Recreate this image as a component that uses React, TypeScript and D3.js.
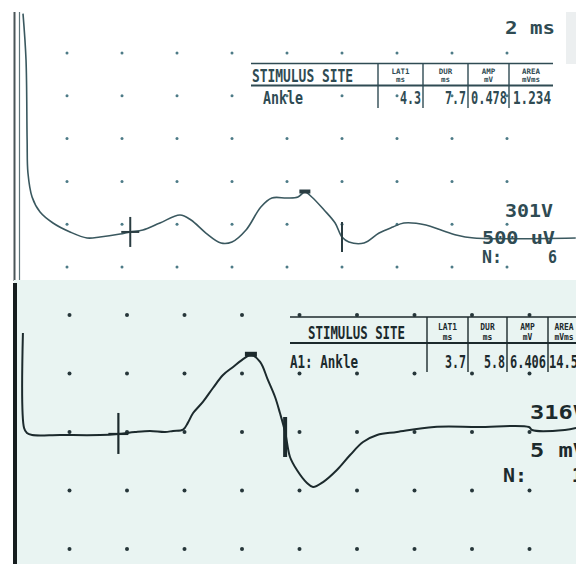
import React from 'react';
import * as d3 from 'd3';

const WIDTH = 576;
const HEIGHT = 564;

// grid (one dot per division)
const gridTimes = [2, 4, 6, 8, 10, 12, 14, 16, 18];
const topGridAmps = [0, 500, 1000, 1500, 2000, 2500];
const bottomGridAmps = [-10, -5, 0, 5, 10];

// upper trace: time in ms, amplitude in uV
const topTime = [0.4, 0.51, 0.55, 0.58, 0.73, 1.02, 1.49, 2.11, 2.73, 3.2, 3.93, 4.29, 4.76, 5.38, 6.11, 6.51,
    7.05, 7.6, 8.0, 8.51, 9.05, 9.45, 10.0, 10.4, 10.65, 10.9, 11.35, 11.75, 12.0, 12.25, 12.8, 13.35,
    13.85, 14.25, 15.05, 15.6, 16.15, 16.8, 20.5];
const topAmp = [2960, 2418, 1483, 1098, 818, 642, 514, 409, 339, 350, 385, 409, 432, 514, 607, 549,
    397, 280, 292, 432, 701, 806, 806, 818, 876, 818, 666, 514, 350, 292, 280, 397,
    467, 514, 491, 432, 374, 339, 339];

// lower trace: time in ms, amplitude in mV
const bottomTime = [0.38, 0.42, 0.52, 0.7, 1.67, 3.06, 3.69, 4.28, 4.8, 5.32, 5.6, 5.95, 6.12, 6.3, 6.64, 6.99,
    7.34, 7.69, 8.1, 8.31, 8.63, 8.9, 9.15, 9.32, 9.5, 9.67, 9.91, 10.26, 10.47, 10.82, 11.3, 11.76,
    12.21, 12.7, 13.39, 14.68, 16.21, 17.98, 18.09, 19.23, 19.62];
const bottomAmp = [8.46, 0.34, -0.09, -0.26, -0.26, -0.26, -0.17, 0, 0.09, 0, 0.09, 0.2, 0.8, 1.62, 2.57, 3.76,
    4.87, 5.56, 6.33, 6.6, 5.99, 4.45, 2.99, 1.62, 0, -2.14, -3.25, -4.36, -4.7, -4.28, -3.25, -1.97,
    -0.86, -0.26, 0, 0.43, 0.43, 0.43, 0.17, 0.17, 0.34];

// tables
const columnTop = ['LAT1', 'DUR', 'AMP', 'AREA'];
const columnUnit = ['ms', 'ms', 'mV', 'mVms'];
const topRow = ['Ankle', '4.3', '7.7', '0.478', '1.234'];
const bottomRow = ['A1: Ankle', '3.7', '5.8', '6.406', '14.5'];
const topPeakTime = 10.65;
const bottomPeakTime = 8.31;

// side labels
const topSweep = '2 ms';
const topLabels = ['301V', '500 uV', 'N:', '6'];
const bottomLabels = ['316V', '5 mV', 'N:', '1'];

const FONT = '"DejaVu Sans Mono", monospace';
const TOP_INK = '#2f4b53';
const BOTTOM_INK = '#1c2a2d';

const topX = d3.scaleLinear().domain([0, 20]).range([12, 562]);
const topY = d3.scaleLinear().domain([0, 2500]).range([267, 53]);
const bottomX = d3.scaleLinear().domain([0, 20]).range([12, 587]);
const bottomY = d3.scaleLinear().domain([-10, 10]).range([549, 315]);

const ampAt = (times: number[], amps: number[], t: number) => {
    const i = Math.max(1, d3.bisectLeft(times, t));
    const t0 = times[i - 1], t1 = times[i];
    const k = t1 === t0 ? 0 : (t - t0) / (t1 - t0);
    return amps[i - 1] + k * (amps[i] - amps[i - 1]);
};

const Label = ({x, y, w, size, fill, anchorEnd = false, children}: any) => (
    <text x={anchorEnd ? x - w : x} y={y} textLength={w} lengthAdjust="spacingAndGlyphs"
          fontFamily={FONT} fontWeight="bold" fontSize={size} fill={fill}>{children}</text>
);

interface ITable {
    left: number; top: number; headLine: number; bottom: number; right: number;
    cols: number[]; row: string[]; ink: string;
    siteX: number; siteW: number; rowX: number; rowW: number;
    valueW: number[]; headSize: number; headY: number[];
}

const Table = ({left, top, headLine, bottom, right, cols, row, ink, siteX, siteW, rowX, rowW, valueW,
                   headSize, headY}: ITable) => {
    const rights = [...cols.slice(1), right];
    return (
        <g>
            <line x1={left} x2={right} y1={top} y2={top} stroke={ink} strokeWidth={1.6}/>
            <line x1={left} x2={right} y1={headLine} y2={headLine} stroke={ink} strokeWidth={2}/>
            {cols.map(c => <line key={c} x1={c} x2={c} y1={top} y2={bottom} stroke={ink} strokeWidth={1.4}/>)}
            <Label x={siteX} y={headLine - 4} w={siteW} size={18} fill={ink}>STIMULUS SITE</Label>
            {columnTop.map((h, i) => {
                const mid = (cols[i] + rights[i]) / 2;
                const w1 = h.length * headSize * 0.6;
                const w2 = columnUnit[i].length * headSize * 0.6;
                return (
                    <g key={h}>
                        <Label x={mid - w1 / 2} y={headY[0]} w={w1} size={headSize} fill={ink}>{h}</Label>
                        <Label x={mid - w2 / 2} y={headY[1]} w={w2} size={headSize} fill={ink}>{columnUnit[i]}</Label>
                    </g>
                );
            })}
            <Label x={rowX} y={bottom - 4} w={rowW} size={18} fill={ink}>{row[0]}</Label>
            {row.slice(1).map((v, i) => (
                <Label key={i} x={rights[i] - 2} y={bottom - 4} w={valueW[i]} size={17} fill={ink}
                       anchorEnd>{v}</Label>
            ))}
        </g>
    );
};

const App = () => {
    const topLine = d3.line<number>()
        .x(t => topX(t))
        .y((_, i) => topY(topAmp[i]))
        .curve(d3.curveCatmullRom.alpha(0.5));
    const bottomLine = d3.line<number>()
        .x(t => bottomX(t))
        .y((_, i) => bottomY(bottomAmp[i]))
        .curve(d3.curveCatmullRom.alpha(0.5));

    const topLat = +topRow[1];
    const topEnd = topLat + +topRow[2];
    const botLat = +bottomRow[1];
    const botEnd = botLat + +bottomRow[2];

    const tLatY = topY(ampAt(topTime, topAmp, topLat));
    const tEndY = topY(ampAt(topTime, topAmp, topEnd));
    const tPeakY = topY(ampAt(topTime, topAmp, topPeakTime));
    const bLatY = bottomY(ampAt(bottomTime, bottomAmp, botLat));
    const bPeakY = bottomY(ampAt(bottomTime, bottomAmp, bottomPeakTime));

    return (
        <svg width={WIDTH} height={HEIGHT} style={{position: 'absolute', left: 0, top: 0}}>
            <defs>
                <linearGradient id="topRule" x1="0" x2="1" y1="0" y2="0">
                    <stop offset="0" stopColor="#3a4f55"/>
                    <stop offset="0.75" stopColor="#3a4f55" stopOpacity={0.8}/>
                    <stop offset="1" stopColor="#3a4f55" stopOpacity={0}/>
                </linearGradient>
            </defs>
            <rect width={WIDTH} height={HEIGHT} fill="#ffffff"/>
            <rect x={566} y={12} width={10} height={52} fill="#eceff0"/>

            {/* upper panel */}
            <line x1={14} x2={335} y1={13} y2={13} stroke="url(#topRule)" strokeWidth={2}/>
            <line x1={14.5} x2={14.5} y1={12} y2={281} stroke="#4a5558" strokeWidth={2}/>
            <line x1={19.5} x2={19.5} y1={12} y2={281} stroke="#5d7479" strokeWidth={1.2}/>
            {topGridAmps.map(a => gridTimes.map(t => (
                <circle key={`t${a}_${t}`} cx={topX(t)} cy={topY(a)} r={1.5} fill="#4d7b87"/>
            )))}
            <Label x={505} y={34} w={50} size={18} fill={TOP_INK}>{topSweep}</Label>
            <Table left={251} top={63.5} headLine={85.5} bottom={108} right={553} cols={[378, 423, 468, 509]}
                   row={topRow} ink={TOP_INK} siteX={252} siteW={101} rowX={263} rowW={40}
                   valueW={[21, 21, 36, 38]} headSize={7.5} headY={[74, 82]}/>
            <path d={topLine(topTime) || ''} fill="none" stroke="#3a585f" strokeWidth={1.6}
                  strokeLinejoin="round"/>
            <line x1={topX(topLat)} x2={topX(topLat)} y1={tLatY - 15} y2={tLatY + 15} stroke="#2a3d42"
                  strokeWidth={2}/>
            <line x1={topX(topLat) - 9} x2={topX(topLat) + 9} y1={tLatY} y2={tLatY} stroke="#2a3d42"
                  strokeWidth={2}/>
            <line x1={topX(topEnd)} x2={topX(topEnd)} y1={tEndY - 15} y2={tEndY + 15} stroke="#2a3d42"
                  strokeWidth={2}/>
            <rect x={topX(topPeakTime) - 5.5} y={tPeakY - 2.5} width={11} height={4} fill="#2a3d42"/>
            <Label x={505} y={217} w={48} size={18} fill={TOP_INK}>{topLabels[0]}</Label>
            <Label x={482} y={244} w={73} size={18} fill={TOP_INK}>{topLabels[1]}</Label>
            <Label x={482} y={263} w={20} size={18} fill={TOP_INK}>{topLabels[2]}</Label>
            <Label x={548} y={263} w={9} size={18} fill={TOP_INK}>{topLabels[3]}</Label>

            {/* lower panel */}
            <rect x={14} y={280} width={WIDTH - 14} height={HEIGHT - 280} fill="#e9f4f2"/>
            <line x1={15} x2={15} y1={283} y2={HEIGHT} stroke="#161d1f" strokeWidth={4}/>
            {bottomGridAmps.map(a => gridTimes.map(t => (
                <circle key={`b${a}_${t}`} cx={bottomX(t)} cy={bottomY(a)} r={2} fill="#26363a"/>
            )))}
            <Table left={290} top={317} headLine={343} bottom={372} right={580} cols={[427, 468, 507, 548]}
                   row={bottomRow} ink={BOTTOM_INK} siteX={308} siteW={97} rowX={290} rowW={68}
                   valueW={[21, 21, 36, 29]} headSize={8} headY={[330, 340]}/>
            <path d={bottomLine(bottomTime) || ''} fill="none" stroke={BOTTOM_INK} strokeWidth={2}
                  strokeLinejoin="round"/>
            <line x1={bottomX(botLat)} x2={bottomX(botLat)} y1={bLatY - 21} y2={bLatY + 20} stroke={BOTTOM_INK}
                  strokeWidth={2.2}/>
            <line x1={bottomX(botLat) - 10} x2={bottomX(botLat) + 10} y1={bLatY} y2={bLatY} stroke={BOTTOM_INK}
                  strokeWidth={2.2}/>
            <line x1={bottomX(botEnd)} x2={bottomX(botEnd)} y1={417} y2={457} stroke={BOTTOM_INK}
                  strokeWidth={4}/>
            <rect x={bottomX(bottomPeakTime) - 6} y={bPeakY - 3} width={12} height={5} fill={BOTTOM_INK}/>
            <Label x={530} y={419} w={57} size={19} fill={BOTTOM_INK}>{bottomLabels[0]}</Label>
            <Label x={530} y={457} w={57} size={19} fill={BOTTOM_INK}>{bottomLabels[1]}</Label>
            <Label x={503} y={482} w={24} size={19} fill={BOTTOM_INK}>{bottomLabels[2]}</Label>
            <Label x={572} y={482} w={10} size={19} fill={BOTTOM_INK}>{bottomLabels[3]}</Label>
        </svg>
    );
};

export default App;
